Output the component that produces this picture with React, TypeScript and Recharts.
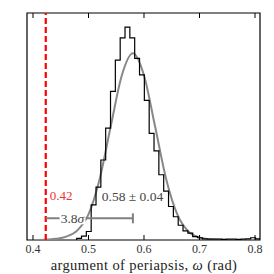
import React from 'react';
import { ComposedChart, Line, XAxis, YAxis, ReferenceLine, ReferenceArea, ReferenceDot } from 'recharts';

// ---- data ----
const binStart = 0.4787;
const binWidth = 0.00871;
const binHeights = [
  0.03, 0.07, 0.15, 0.62, 0.93, 1.41, 1.97, 2.62, 3.17, 3.56, 3.75, 3.56, 3.2, 2.91,
  2.46, 1.88, 1.57, 1.15, 0.86, 0.59, 0.41, 0.26, 0.16, 0.12, 0.06, 0.04, 0.02,
  0.015, 0.015, 0.015, 0.01, 0.015, 0.015, 0.01, 0.015, 0.02, 0.04, 0.02,
];
const fitX = [0.4, 0.42, 0.44, 0.46, 0.48, 0.5, 0.52, 0.54, 0.56, 0.58, 0.6, 0.62, 0.64, 0.66, 0.68, 0.7, 0.72, 0.74, 0.76, 0.78, 0.8];
const fitY = [0.0, 0.005, 0.02, 0.06, 0.17, 0.45, 1.07, 2.0, 2.9, 3.29, 2.9, 2.0, 1.07, 0.45, 0.15, 0.045, 0.012, 0.003, 0.0, 0.0, 0.0];
const xTicks = [0.4, 0.5, 0.6, 0.7, 0.8];
const yTicks = [1, 2, 3];
const xDomain: [number, number] = [0.3892, 0.809];
const yDomain: [number, number] = [0, 4];
const trueValue = 0.423;
const trueLabel = '0.42';
const meanValue = 0.58;
const meanLabel = '0.58 \u00b1 0.04';
const sigmaLabel = '3.8';
const barY = 0.382;
const capHalf = 0.088;
const xLabel = 'argument of periapsis, ';
const yLabel = 'fraction of samples';

// ---- layout ----
const W = 274;
const H = 274;
const PL = 27;
const PR = 260;
const PT = 13;
const PB = 240;
const FONT = 'Liberation Serif';

const histData: { x: number; h: number }[] = [{ x: binStart, h: 0 }];
binHeights.forEach((h, i) => histData.push({ x: binStart + i * binWidth, h }));
histData.push({ x: binStart + binHeights.length * binWidth, h: binHeights[binHeights.length - 1] });

const fitData = fitX.map((x, i) => ({ x, g: fitY[i] }));

const XTick = (props: any) => {
  const { x, payload } = props;
  return (
    <g>
      <line x1={x} x2={x} y1={PB} y2={PB - 5} stroke="#000" strokeWidth={1} />
      <line x1={x} x2={x} y1={PT} y2={PT + 5} stroke="#000" strokeWidth={1} />
      <text x={x} y={249} textAnchor="middle" dominantBaseline="central" fontFamily={FONT} fontSize={12} fill="#333">
        {Number(payload.value).toFixed(1)}
      </text>
    </g>
  );
};

const YTick = (props: any) => {
  const { y } = props;
  return (
    <g>
      <line x1={PL} x2={PL + 5} y1={y} y2={y} stroke="#000" strokeWidth={1} />
      <line x1={PR} x2={PR - 5} y1={y} y2={y} stroke="#000" strokeWidth={1} />
    </g>
  );
};

const XLabel = () => (
  <text x={(PL + PR) / 2 + 0.5} y={265} textAnchor="middle" dominantBaseline="central" fontFamily={FONT} fontSize={14.5} letterSpacing={0.4} fill="#222">
    {xLabel}
    <tspan fontStyle="italic">{'\u03c9'}</tspan>
    {' (rad)'}
  </text>
);

const YLabel = () => (
  <text x={12} y={125} textAnchor="middle" dominantBaseline="central" fontFamily={FONT} fontSize={15} letterSpacing={0.4} fill="#222" transform="rotate(-90 12 125)">
    {yLabel}
  </text>
);

const TrueText = (props: any) => {
  const { viewBox } = props;
  const cx = viewBox.x + viewBox.width / 2;
  const cy = viewBox.y + viewBox.height / 2;
  return (
    <text x={cx} y={cy} textAnchor="middle" dominantBaseline="central" fontFamily={FONT} fontSize={13} fill="#ee3333">
      {trueLabel}
    </text>
  );
};

const MeanText = (props: any) => {
  const { viewBox } = props;
  const cx = viewBox.x + viewBox.width / 2;
  const cy = viewBox.y + viewBox.height / 2;
  return (
    <text x={cx} y={cy} textAnchor="middle" dominantBaseline="central" fontFamily={FONT} fontSize={13.5} fill="#444">
      {meanLabel}
    </text>
  );
};

const SigmaText = (props: any) => {
  const { viewBox } = props;
  const cx = viewBox.x + viewBox.width / 2;
  const cy = viewBox.y + viewBox.height / 2;
  return (
    <g>
      <rect x={cx - 13} y={cy - 6} width={26} height={12} fill="#fff" />
      <text x={cx} y={cy} textAnchor="middle" dominantBaseline="central" fontFamily={FONT} fontSize={13.5} fill="#444">
        {sigmaLabel}
        <tspan fontStyle="italic">{'\u03c3'}</tspan>
      </text>
    </g>
  );
};

export default function App() {
  return (
    <div style={{ position: 'absolute', left: 0, top: 0, width: W, height: H, background: '#fff' }}>
      <ComposedChart width={W} height={H} margin={{ top: PT, right: W - PR, bottom: 0, left: PL }}>
        <XAxis
          dataKey="x"
          type="number"
          domain={xDomain}
          ticks={xTicks}
          allowDataOverflow
          tickLine={false}
          axisLine={false}
          height={H - PB}
          tick={<XTick />}
          label={<XLabel />}
        />
        <YAxis
          type="number"
          domain={yDomain}
          ticks={yTicks}
          allowDataOverflow
          tickLine={false}
          axisLine={false}
          width={0}
          tick={<YTick />}
          label={<YLabel />}
        />
        <Line
          data={fitData}
          dataKey="g"
          type="monotone"
          stroke="#888"
          strokeWidth={2}
          dot={false}
          isAnimationActive={false}
        />
        <Line
          data={histData}
          dataKey="h"
          type="stepAfter"
          stroke="#000"
          strokeWidth={1.2}
          dot={false}
          isAnimationActive={false}
        />
        <ReferenceLine x={trueValue} stroke="#ff0000" strokeWidth={2.2} strokeDasharray="6 3" />
        <ReferenceLine
          segment={[{ x: trueValue, y: barY }, { x: meanValue, y: barY }]}
          stroke="#808080"
          strokeWidth={2}
        />
        <ReferenceLine
          segment={[{ x: meanValue, y: barY - capHalf }, { x: meanValue, y: barY + capHalf }]}
          stroke="#808080"
          strokeWidth={2}
        />
        <ReferenceDot x={0.4505} y={0.79} r={0} fill="none" stroke="none" label={<TrueText />} />
        <ReferenceDot x={0.5793} y={0.775} r={0} fill="none" stroke="none" label={<MeanText />} />
        <ReferenceDot x={0.4712} y={barY} r={0} fill="none" stroke="none" label={<SigmaText />} />
        <ReferenceArea x1={xDomain[0]} x2={xDomain[1]} y1={yDomain[0]} y2={yDomain[1]} fill="none" stroke="#000" strokeWidth={1.2} ifOverflow="visible" />
      </ComposedChart>
    </div>
  );
}
